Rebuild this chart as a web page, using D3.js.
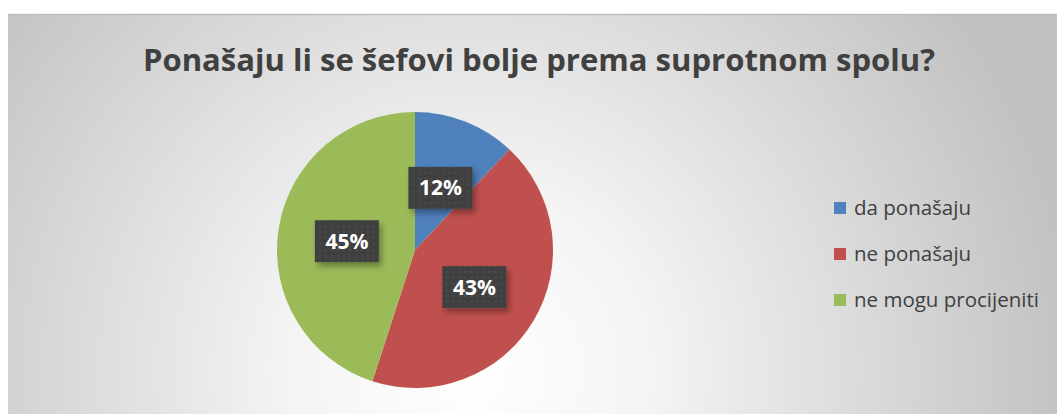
<!DOCTYPE html>
<html><head><meta charset="utf-8">
<script src="https://cdn.jsdelivr.net/npm/d3@7"></script>
<style>body{margin:0;background:#fff;}svg{display:block;}</style>
</head><body>
<script>
const categories = ["da ponašaju", "ne ponašaju", "ne mogu procijeniti"];
const values = [12, 43, 45];
const colors = ["#4f81bd", "#c0504d", "#9bbb59"];
const title = "Ponašaju li se šefovi bolje prema suprotnom spolu?";

const W = 1057, H = 414;
const svg = d3.select("body").append("svg").attr("width", W).attr("height", H);
const defs = svg.append("defs");

const rg = defs.append("radialGradient").attr("id", "bg")
  .attr("gradientUnits", "userSpaceOnUse").attr("cx", 470).attr("cy", 370).attr("r", 600);
rg.append("stop").attr("offset", "0").attr("stop-color", "#ffffff");
rg.append("stop").attr("offset", "0.3").attr("stop-color", "#f4f4f4");
rg.append("stop").attr("offset", "1").attr("stop-color", "#c2c2c2");

const pat = defs.append("pattern").attr("id", "dots").attr("patternUnits", "userSpaceOnUse")
  .attr("width", 6).attr("height", 6);
pat.append("rect").attr("width", 6).attr("height", 6).attr("fill", "#3f3f3f");
pat.append("rect").attr("x", 2).attr("y", 2).attr("width", 2).attr("height", 2).attr("fill", "#4d4d4d");

const sh = defs.append("filter").attr("id", "shadow").attr("x", "-30%").attr("y", "-30%").attr("width", "160%").attr("height", "170%");
sh.append("feGaussianBlur").attr("in", "SourceAlpha").attr("stdDeviation", 3);
sh.append("feOffset").attr("dx", 3).attr("dy", 4).attr("result", "b");
sh.append("feComponentTransfer").append("feFuncA").attr("type", "linear").attr("slope", 0.35);
const fm = sh.append("feMerge");
fm.append("feMergeNode");
fm.append("feMergeNode").attr("in", "SourceGraphic");

svg.append("rect").attr("x", 8).attr("y", 14).attr("width", W).attr("height", H)
  .attr("fill", "url(#bg)");
svg.append("line").attr("x1", 8).attr("x2", W).attr("y1", 14.5).attr("y2", 14.5)
  .attr("stroke", "#bdbdbd").attr("stroke-width", 1.5);

// Title
const t = svg.append("text").attr("x", 539).attr("y", 71).attr("text-anchor", "middle")
  .attr("font-family", "'Open Sans', sans-serif").attr("font-weight", "bold")
  .attr("font-size", 30).attr("fill", "#404040").text(title);
t.attr("textLength", 792).attr("lengthAdjust", "spacingAndGlyphs");

// Pie
const cx = 415, cy = 250, R = 138;
const pie = d3.pie().sort(null).value(d => d)(values);
const arc = d3.arc().innerRadius(0).outerRadius(R);
const g = svg.append("g").attr("transform", `translate(${cx},${cy})`);
g.selectAll("path").data(pie).join("path")
  .attr("d", arc).attr("fill", (d, i) => colors[i]);

// Labels
const lbl = g.selectAll("g.lbl").data(pie).join("g").attr("class", "lbl")
  .attr("transform", d => { const c = arc.centroid(d); return `translate(${c[0]},${c[1]+2})`; });
lbl.append("rect").attr("x", -32).attr("y", -21).attr("width", 64).attr("height", 42)
  .attr("fill", "url(#dots)").attr("filter", "url(#shadow)");
lbl.append("text").attr("text-anchor", "middle").attr("dy", "0.36em")
  .attr("font-family", "'Open Sans', sans-serif").attr("font-weight", "bold")
  .attr("font-size", 21).attr("fill", "#ffffff").text((d, i) => values[i] + "%");

// Legend
const ly = d3.scalePoint().domain(categories).range([208, 300]);
const lg = svg.append("g");
const items = lg.selectAll("g").data(categories).join("g")
  .attr("transform", d => `translate(834,${ly(d)})`);
items.append("rect").attr("x", 0).attr("y", -6).attr("width", 12).attr("height", 12)
  .attr("fill", (d, i) => colors[i]);
items.append("text").attr("x", 20).attr("y", 0).attr("dy", "0.35em")
  .attr("font-family", "'Open Sans', sans-serif").attr("font-size", 20.5)
  .attr("fill", "#404040").text(d => d);
</script>
</body></html>
